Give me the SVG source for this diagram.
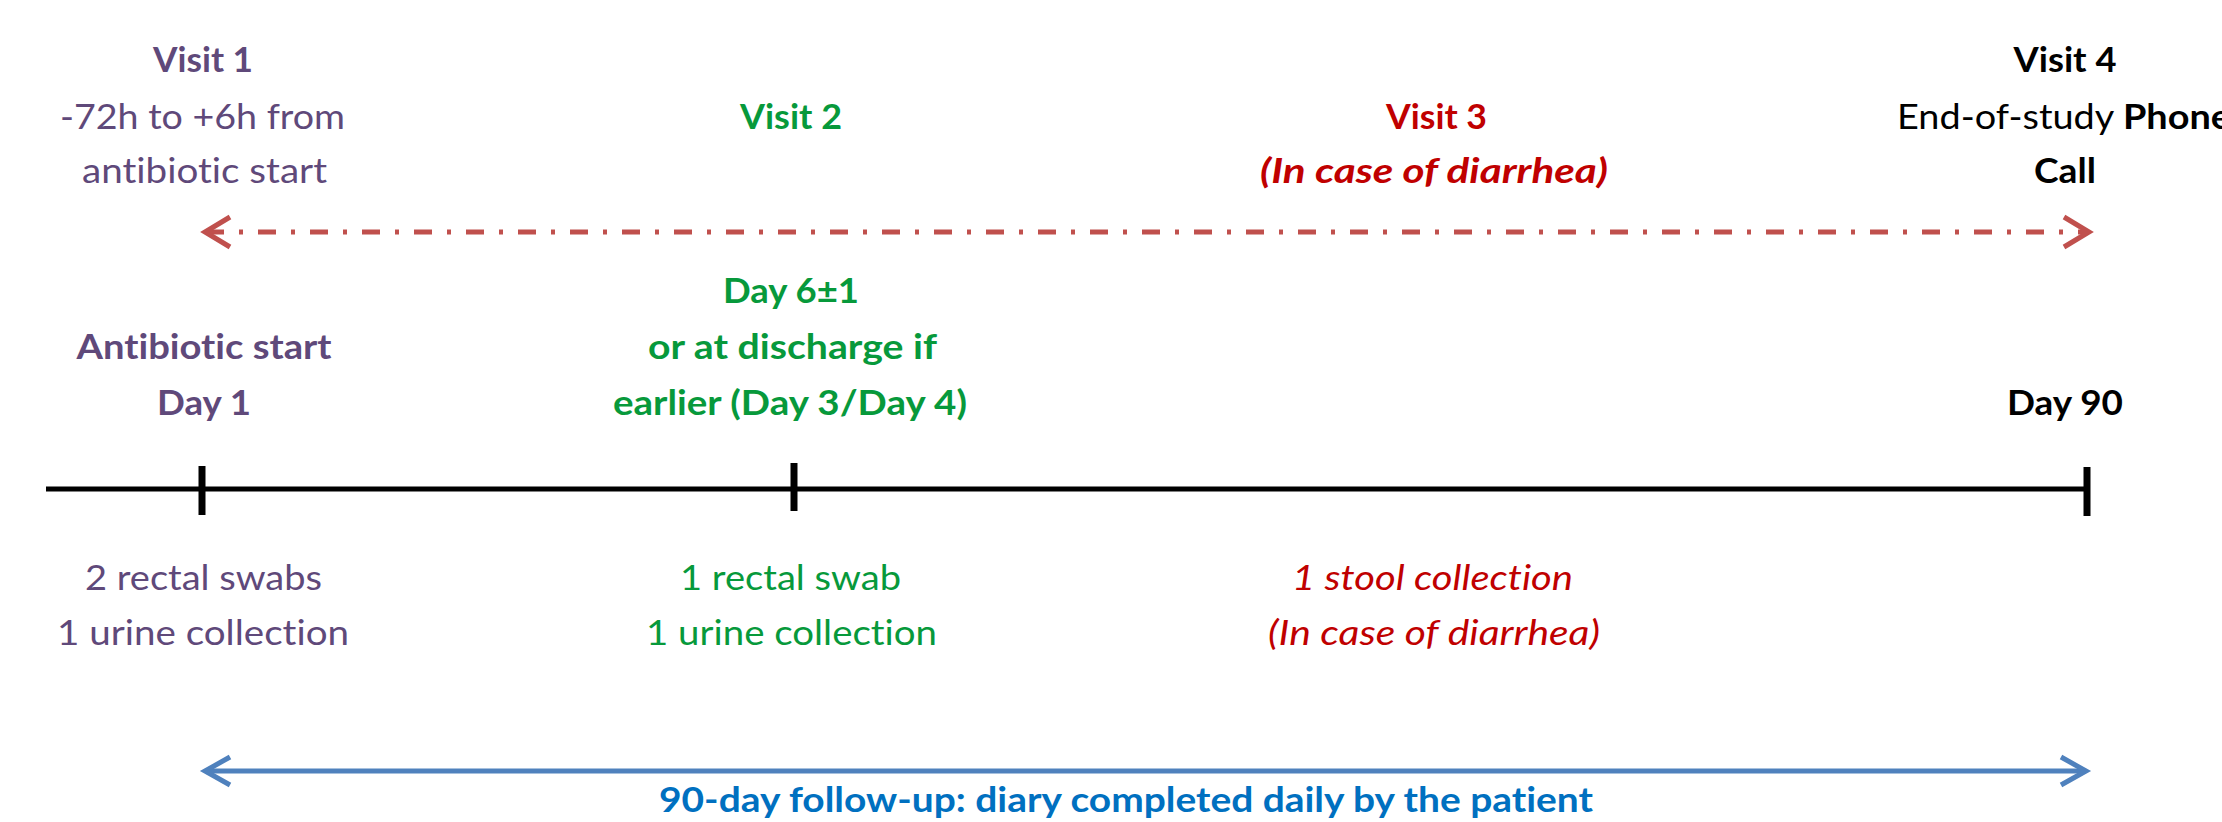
<svg xmlns="http://www.w3.org/2000/svg" width="2222" height="822" viewBox="0 0 2222 822">
<style>
text{font-family:Lato,"Liberation Sans",sans-serif;font-size:35px;text-anchor:middle;font-variant-ligatures:none;font-feature-settings:"liga" 0}
.b{font-weight:bold}
.i{font-style:italic}
.pu{fill:#5F497A}
.gr{fill:#07993B}
.rd{fill:#C00000}
.bk{fill:#000000}
.bl{fill:#0070C0}
.axis{stroke:#000;stroke-width:5;fill:none}
.tick{stroke:#000;stroke-width:7;fill:none}
</style>
<defs>
<marker id="chevR" markerUnits="userSpaceOnUse" orient="auto-start-reverse" refX="0" refY="0" markerWidth="40" markerHeight="40" overflow="visible">
<path d="M -25 -15 L 0 0 L -25 15" fill="none" stroke="#C0504D" stroke-width="5"/>
</marker>
<marker id="chevB" markerUnits="userSpaceOnUse" orient="auto-start-reverse" refX="0" refY="0" markerWidth="40" markerHeight="40" overflow="visible">
<path d="M -25 -14 L 0 0 L -25 14" fill="none" stroke="#4F81BD" stroke-width="5"/>
</marker>
</defs>
<rect width="2222" height="822" fill="#fff"/>
<g id="connectors">
<line x1="205" y1="232" x2="2089" y2="232" stroke="#C0504D" stroke-width="5" stroke-dasharray="4 15 18 15" stroke-dashoffset="18" marker-start="url(#chevR)" marker-end="url(#chevR)"/>
<line class="axis" x1="46" y1="489" x2="2088" y2="489"/>
<line class="tick" x1="202" y1="466" x2="202" y2="515"/>
<line class="tick" x1="794" y1="463" x2="794" y2="511"/>
<line class="tick" x1="2087" y1="467" x2="2087" y2="516"/>
<line x1="205" y1="771" x2="2086" y2="771" stroke="#4F81BD" stroke-width="5" marker-start="url(#chevB)" marker-end="url(#chevB)"/>
</g>
<g id="visit1">
<text class="b pu" x="203" y="72" textLength="100" lengthAdjust="spacingAndGlyphs">Visit 1</text>
<text class="pu" x="202.5" y="129" textLength="285" lengthAdjust="spacingAndGlyphs">-72h to +6h from</text>
<text class="pu" x="204.5" y="183" textLength="245" lengthAdjust="spacingAndGlyphs">antibiotic start</text>
</g>
<g id="visit2">
<text class="b gr" x="791" y="129" textLength="102" lengthAdjust="spacingAndGlyphs">Visit 2</text>
</g>
<g id="visit3">
<text class="b rd" x="1436.5" y="129" textLength="101" lengthAdjust="spacingAndGlyphs">Visit 3</text>
<text class="b i rd" x="1434" y="183" textLength="348" lengthAdjust="spacingAndGlyphs">(In case of diarrhea)</text>
</g>
<g id="visit4">
<text class="b bk" x="2065" y="72" textLength="103" lengthAdjust="spacingAndGlyphs">Visit 4</text>
<text class="bk" x="1897" y="129" style="text-anchor:start" textLength="334" lengthAdjust="spacingAndGlyphs">End-of-study <tspan class="b">Phone</tspan></text>
<text class="b bk" x="2065" y="183" textLength="62" lengthAdjust="spacingAndGlyphs">Call</text>
</g>
<g id="day1">
<text class="b pu" x="204" y="359" textLength="255" lengthAdjust="spacingAndGlyphs">Antibiotic start</text>
<text class="b pu" x="204" y="415" textLength="94" lengthAdjust="spacingAndGlyphs">Day 1</text>
</g>
<g id="day6">
<text class="b gr" x="791" y="303" textLength="136" lengthAdjust="spacingAndGlyphs">Day 6±1</text>
<text class="b gr" x="792.5" y="359" textLength="289" lengthAdjust="spacingAndGlyphs">or at discharge if</text>
<text class="b gr" x="790" y="415" textLength="354" lengthAdjust="spacingAndGlyphs">earlier (Day 3/Day 4)</text>
</g>
<g id="day90">
<text class="b bk" x="2065" y="415" textLength="116" lengthAdjust="spacingAndGlyphs">Day 90</text>
</g>
<g id="samples1">
<text class="pu" x="203.5" y="590" textLength="237" lengthAdjust="spacingAndGlyphs">2 rectal swabs</text>
<text class="pu" x="203" y="645" textLength="292" lengthAdjust="spacingAndGlyphs">1 urine collection</text>
</g>
<g id="samples2">
<text class="gr" x="790.5" y="590" textLength="221" lengthAdjust="spacingAndGlyphs">1 rectal swab</text>
<text class="gr" x="791.5" y="645" textLength="291" lengthAdjust="spacingAndGlyphs">1 urine collection</text>
</g>
<g id="samples3">
<text class="i rd" x="1432.5" y="590" textLength="281" lengthAdjust="spacingAndGlyphs">1 stool collection</text>
<text class="i rd" x="1434" y="645" textLength="332" lengthAdjust="spacingAndGlyphs">(In case of diarrhea)</text>
</g>
<g id="followup">
<text class="b bl" x="1126" y="812" textLength="934" lengthAdjust="spacingAndGlyphs">90-day follow-up: diary completed daily by the patient</text>
</g>
</svg>
